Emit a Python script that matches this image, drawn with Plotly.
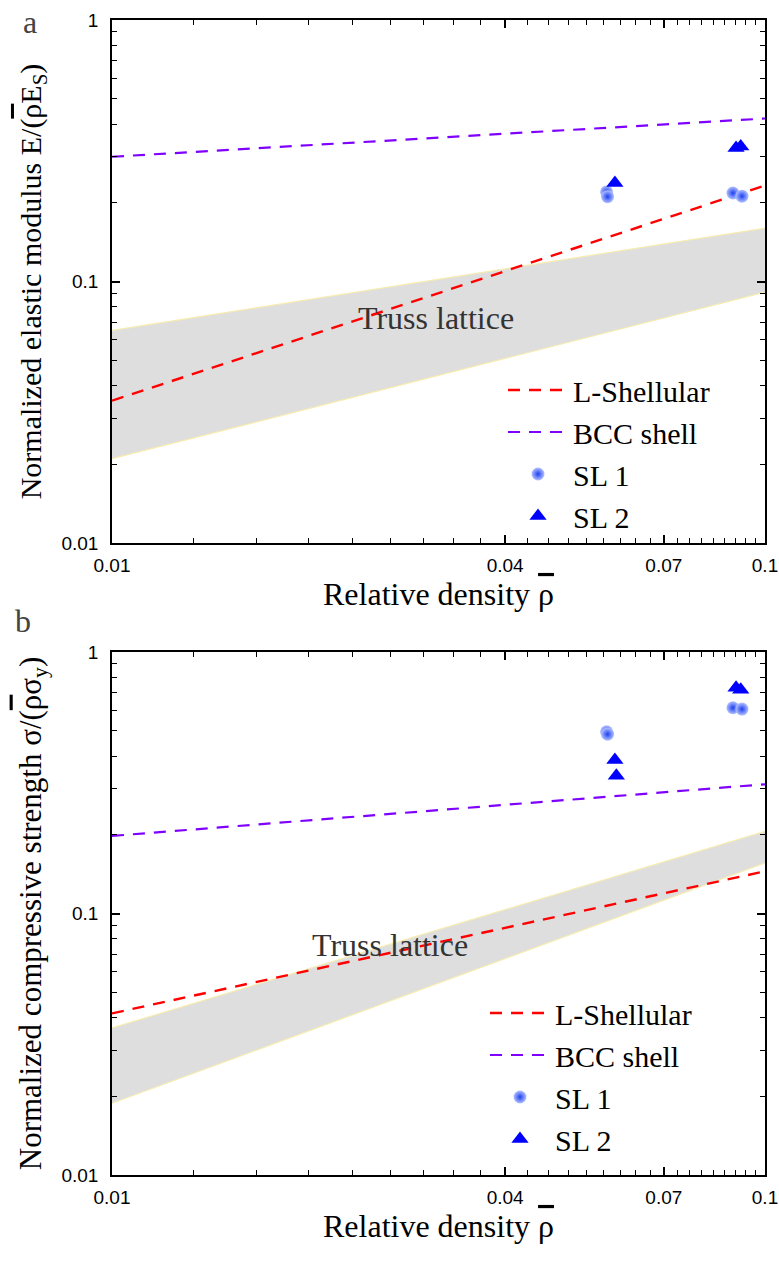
import plotly.graph_objects as go

# Relative density range shared by the model curves
rho_ends = [0.01, 0.1]

# (a) Normalized elastic modulus
e_lshell = [0.035, 0.233]
e_bcc = [0.30, 0.42]
e_truss_upper = [0.065, 0.16]
e_truss_lower = [0.021, 0.091]
e_sl1_x = [0.0572, 0.0574, 0.0893, 0.0922]
e_sl1_y = [0.220, 0.211, 0.218, 0.212]
e_sl2_x = [0.0589, 0.0903, 0.0918]
e_sl2_y = [0.238, 0.324, 0.328]

# (b) Normalized compressive strength
s_lshell = [0.0415, 0.145]
s_bcc = [0.198, 0.312]
s_truss_upper = [0.0365, 0.206]
s_truss_lower = [0.0188, 0.156]
s_sl1_x = [0.0572, 0.0574, 0.0893, 0.0922]
s_sl1_y = [0.495, 0.485, 0.612, 0.605]
s_sl2_x = [0.0589, 0.0592, 0.0903, 0.0918]
s_sl2_y = [0.386, 0.336, 0.730, 0.717]

x_major = [0.01, 0.04, 0.07, 0.1]
x_minor = [round(0.01 + i * 0.01 / 3, 5) for i in range(28)]
y_major = [0.01, 0.1, 1]
y_minor = [m * d for d in (0.01, 0.1) for m in range(2, 10)]

RED = "#ff0000"
PURPLE = "#7f00ff"
BLUE = "#0000ff"
SERIF = "Liberation Serif, Times New Roman, serif"
SANS = "Liberation Sans, Arial, sans-serif"
RHO = "<span style='text-decoration:overline'>\u03c1</span>"

fig = go.Figure()


def add_panel(xa, ya, legend, upper, lower, lshell, bcc, sl1x, sl1y, sl2x, sl2y):
    fig.add_trace(go.Scatter(x=rho_ends, y=lower, xaxis=xa, yaxis=ya, mode="lines",
                             line=dict(color="#f7ecb0", width=1.2),
                             showlegend=False, hoverinfo="skip"))
    fig.add_trace(go.Scatter(x=rho_ends, y=upper, xaxis=xa, yaxis=ya, mode="lines",
                             line=dict(color="#f7ecb0", width=1.2), fill="tonexty",
                             fillcolor="#dedede", showlegend=False, hoverinfo="skip"))
    fig.add_trace(go.Scatter(x=rho_ends, y=lshell, xaxis=xa, yaxis=ya, mode="lines",
                             name="L-Shellular", legend=legend,
                             line=dict(color=RED, width=2.4, dash="12px,9px")))
    fig.add_trace(go.Scatter(x=rho_ends, y=bcc, xaxis=xa, yaxis=ya, mode="lines",
                             name="BCC shell", legend=legend,
                             line=dict(color=PURPLE, width=2.2, dash="12px,9px")))
    fig.add_trace(go.Scatter(x=sl1x, y=sl1y, xaxis=xa, yaxis=ya, mode="markers",
                             name="SL 1", legend=legend,
                             marker=dict(symbol="circle", size=13, color="#b4c2ff",
                                         gradient=dict(type="radial", color="#1d40f0"),
                                         line=dict(width=0))))
    fig.add_trace(go.Scatter(x=sl2x, y=sl2y, xaxis=xa, yaxis=ya, mode="markers",
                             name="SL 2", legend=legend,
                             marker=dict(symbol="triangle-up", size=15, color=BLUE,
                                         line=dict(width=0))))


add_panel("x", "y", "legend", e_truss_upper, e_truss_lower, e_lshell, e_bcc,
          e_sl1_x, e_sl1_y, e_sl2_x, e_sl2_y)
add_panel("x2", "y2", "legend2", s_truss_upper, s_truss_lower, s_lshell, s_bcc,
          s_sl1_x, s_sl1_y, s_sl2_x, s_sl2_y)

W, H = 779, 1268
xdom = [112 / W, 765 / W]
ydom_a = [1 - 543 / H, 1 - 20 / H]
ydom_b = [1 - 1175 / H, 1 - 652 / H]

axis_base = dict(type="log", tickmode="array", ticks="inside", ticklen=8,
                 tickwidth=1.5, tickcolor="black", showline=True, linecolor="black",
                 linewidth=1.5, mirror="allticks", showgrid=False, zeroline=False,
                 automargin=False,
                 tickfont=dict(family=SANS, size=19, color="black"))
minor_base = dict(tickmode="array", ticks="inside", ticklen=5, tickwidth=1.2,
                  tickcolor="black", showgrid=False)

common_x = dict(axis_base, range=[-2, -1], tickvals=x_major,
                ticktext=["0.01", "0.04", "0.07", "0.1"], ticklabelstandoff=4,
                minor=dict(minor_base, tickvals=x_minor))
common_y = dict(axis_base, range=[-2, 0], tickvals=y_major,
                ticktext=["0.01", "0.1", "1"], ticklabelstandoff=8,
                minor=dict(minor_base, tickvals=y_minor))


def title_font(size):
    return dict(family=SERIF, size=size, color="black")


legend_style = dict(font=dict(family=SERIF, size=30, color="black"),
                    bgcolor="rgba(0,0,0,0)", borderwidth=0, itemwidth=60,
                    tracegroupgap=0, traceorder="normal",
                    xanchor="left", yanchor="top")

fig.update_layout(
    width=W, height=H,
    margin=dict(l=0, r=0, t=0, b=0),
    paper_bgcolor="white", plot_bgcolor="white",
    xaxis=dict(common_x, domain=xdom, anchor="y",
               title=dict(text="Relative density " + RHO, font=title_font(32), standoff=8)),
    yaxis=dict(common_y, domain=ydom_a, anchor="x",
               title=dict(text="Normalized elastic modulus E/(" + RHO + "E<sub>S</sub>)",
                          font=title_font(30), standoff=11)),
    xaxis2=dict(common_x, domain=xdom, anchor="y2",
                title=dict(text="Relative density " + RHO, font=title_font(32), standoff=8)),
    yaxis2=dict(common_y, domain=ydom_b, anchor="x2",
                title=dict(text="Normalized compressive strength \u03c3/(" + RHO + "\u03c3<sub>y</sub>)",
                           font=title_font(31), standoff=11)),
    legend=dict(legend_style, x=503 / W, y=1 - 364 / H),
    legend2=dict(legend_style, x=485 / W, y=1 - 987 / H),
    showlegend=True,
)

fig.add_annotation(text="Truss lattice", xref="x", yref="y", x=-1.504, y=-1.14,
                   showarrow=False, font=dict(family=SERIF, size=32, color="#333333"))
fig.add_annotation(text="Truss lattice", xref="x2", yref="y2", x=-1.574, y=-1.12,
                   showarrow=False, font=dict(family=SERIF, size=32, color="#333333"))
fig.add_annotation(text="a", xref="paper", yref="paper", x=30 / W, y=1 - 2 / H,
                   xanchor="center", yanchor="top",
                   showarrow=False, font=dict(family=SERIF, size=32, color="#444444"))
fig.add_annotation(text="b", xref="paper", yref="paper", x=23 / W, y=1 - 621 / H,
                   xanchor="center", yanchor="middle",
                   showarrow=False, font=dict(family=SERIF, size=32, color="#444444"))

fig.write_html("out.html")
